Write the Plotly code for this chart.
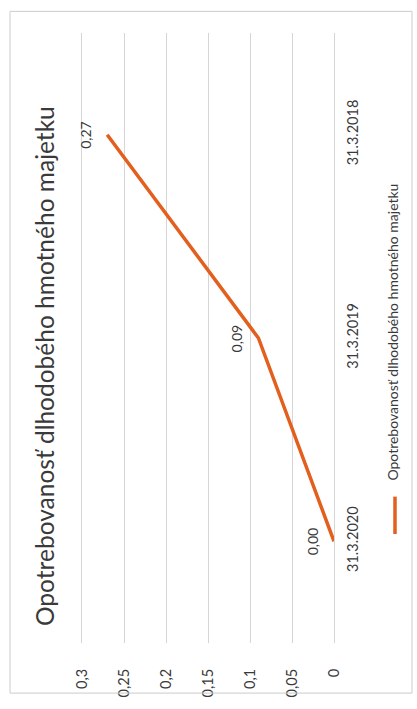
import plotly.graph_objects as go

# ---- data ----
categories = ["31.3.2020", "31.3.2019", "31.3.2018"]
values = [0.00, 0.09, 0.27]
value_ticks = [0, 0.05, 0.1, 0.15, 0.2, 0.25, 0.3]
value_tick_labels = ["0", "0,05", "0,1", "0,15", "0,2", "0,25", "0,3"]
series_name = "Opotrebovanosť dlhodobého hmotného majetku"
title_text = "Opotrebovanosť dlhodobého hmotného majetku"

# ---- layout geometry ----
W, H = 417, 709
L, R, T, B = 82, 83, 33, 55
PW, PH = W - L - R, H - T - B
FONT = "Lato, 'Open Sans', sans-serif"
TXT = "#3a3a3a"
GRID = "#d6d6d6"
ORANGE = "#E35F1E"


def px_x(p):
    return (p - L) / PW


def px_y(p):
    return (H - B - p) / PH


fig = go.Figure()
fig.add_trace(go.Scatter(
    x=values, y=categories, mode="lines", name=series_name,
    line=dict(color=ORANGE, width=3.5), hoverinfo="skip", showlegend=False,
))

# data labels
for v, c in zip(values, categories):
    fig.add_annotation(
        x=v, y=c, xref="x", yref="y", text=f"{v:.2f}".replace(".", ","),
        textangle=-90, showarrow=False, xshift=-22,
        font=dict(family=FONT, size=14, color=TXT),
    )

# title
fig.add_annotation(
    x=px_x(45), y=px_y(372), xref="paper", yref="paper", text=title_text,
    textangle=-90, showarrow=False, xanchor="center", yanchor="middle",
    font=dict(family=FONT, size=24.5, color=TXT),
)

# legend (rotated)
fig.add_shape(type="line", xref="paper", yref="paper",
              x0=px_x(395), x1=px_x(395), y0=px_y(505), y1=px_y(543),
              line=dict(color=ORANGE, width=3.5))
fig.add_annotation(
    x=px_x(393), y=px_y(338), xref="paper", yref="paper", text=series_name,
    textangle=-90, showarrow=False, xanchor="center", yanchor="middle",
    font=dict(family=FONT, size=14, color=TXT),
)

# chart frame
fig.add_shape(type="rect", xref="paper", yref="paper",
              x0=px_x(10), x1=px_x(412), y0=px_y(11), y1=px_y(705),
              line=dict(color="#cccccc", width=1))

fig.update_layout(
    width=W, height=H,
    margin=dict(l=L, r=R, t=T, b=B),
    paper_bgcolor="white", plot_bgcolor="white",
    showlegend=False,
    font=dict(family=FONT, color=TXT),
    xaxis=dict(
        range=[0.3, 0], tickvals=value_ticks, ticktext=value_tick_labels,
        tickangle=-90, showgrid=True, gridcolor=GRID, gridwidth=1,
        zeroline=False, showline=False, ticks="", ticklabelstandoff=22,
        tickfont=dict(family=FONT, size=14.5, color=TXT), fixedrange=True,
    ),
    yaxis=dict(
        type="category", categoryorder="array", categoryarray=categories,
        range=[-0.5, 2.5], side="right", tickangle=-90, showgrid=False,
        zeroline=False, showline=True, mirror=True, linecolor=GRID, linewidth=1,
        ticks="", ticklabelstandoff=6,
        tickfont=dict(family=FONT, size=14.5, color=TXT), fixedrange=True,
    ),
)

fig.write_html(
    "out.html",
    config={"displayModeBar": False},
    post_script="document.body.style.margin='0';document.body.style.overflow='hidden';",
)
